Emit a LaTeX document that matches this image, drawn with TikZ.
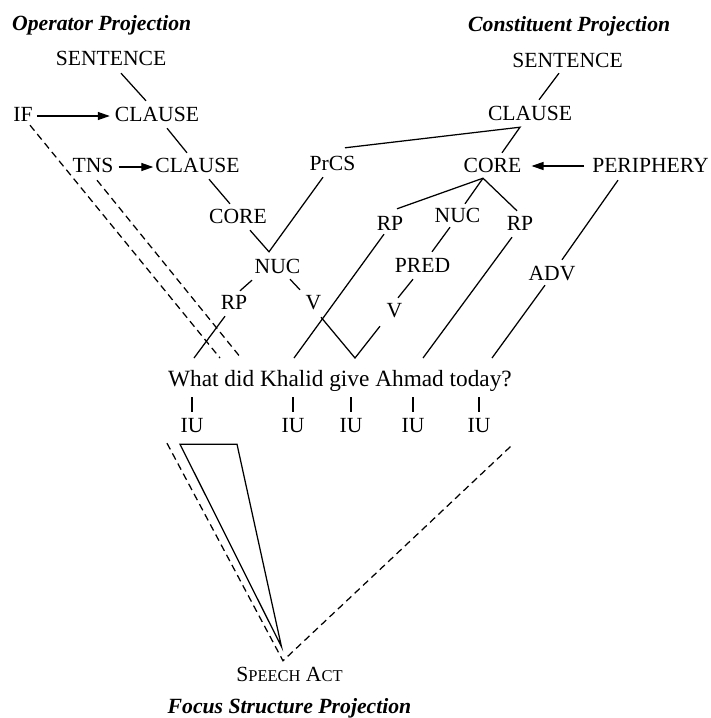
\documentclass[tikz,border=0pt]{standalone}
\usepackage{fontspec}
\setmainfont{Liberation Serif}
\usetikzlibrary{arrows.meta}

\begin{document}
\begin{tikzpicture}[x=1pt,y=-1pt,
  lbl/.style={inner sep=0pt, text height=14pt, text depth=0pt, anchor=base,
              font=\fontsize{21.6}{24}\selectfont},
  head/.style={inner sep=0pt, anchor=base west,
              font=\fontsize{21.7}{24}\selectfont\bfseries\itshape},
  ln/.style={line width=1.25pt},
  dsh/.style={line width=1.25pt, dash pattern=on 7pt off 4.5pt},
  arr/.style={line width=1.25pt, -{Triangle[length=12pt,width=8pt]}},
]
\useasboundingbox (0,0) rectangle (711,718);

% headings
\node[head] (opHead) at (12,30) {Operator Projection};
\node[head] (csHead) at (468,31) {Constituent Projection};
\node[head, anchor=base] (fsHead) at (289.5,713) {Focus Structure Projection};

% operator projection
\node[lbl] (sentL)   at (111,65)   {SENTENCE};
\node[lbl] (ifn)     at (23,121)   {IF};
\node[lbl] (clauseLa) at (157,121) {CLAUSE};
\node[lbl] (tns)     at (93,172)   {TNS};
\node[lbl] (clauseLb) at (197.5,172) {CLAUSE};
\node[lbl] (coreL)   at (238,223)  {CORE};
\node[lbl] (nucL)    at (277.5,273) {NUC};
\node[lbl] (rpL)     at (234,309)  {RP};
\node[lbl] (vL)      at (313.5,309) {V};

% constituent projection
\node[lbl] (sentR)   at (567.5,67) {SENTENCE};
\node[lbl] (clauseR) at (530,120)  {CLAUSE};
\node[lbl] (prcs)    at (332.5,170) {PrCS};
\node[lbl] (coreR)   at (492.5,172) {CORE};
\node[lbl] (periph)  at (650.5,172) {PERIPHERY};
\node[lbl] (rpRa)    at (390,230)  {RP};
\node[lbl] (nucR)    at (457.5,222) {NUC};
\node[lbl] (rpRb)    at (520,230)  {RP};
\node[lbl] (pred)    at (422.5,272) {PRED};
\node[lbl] (vR)      at (394.5,317) {V};
\node[lbl] (adv)     at (552,280)  {ADV};

% the sentence
\node[inner sep=0pt, anchor=base west, font=\fontsize{23.3}{26}\selectfont]
  (sent) at (168,386) {What did Khalid give Ahmad today?};

% information units
\node[lbl] (iua) at (192,432) {IU};
\node[lbl] (iub) at (293,432) {IU};
\node[lbl] (iuc) at (351,432) {IU};
\node[lbl] (iud) at (413,432) {IU};
\node[lbl] (iue) at (479,432) {IU};

% focus structure projection
\node[lbl] (speech) at (289.5,681)
  {S{\fontsize{16.5}{18}\selectfont PEECH} A{\fontsize{16.5}{18}\selectfont CT}};

% operator projection branches
\draw[ln] ([shift={(10,8)}]sentL.south) -- ([shift={(-11,-6)}]clauseLa.north);
\draw[ln] ([shift={(10,7)}]clauseLa.south) -- ([shift={(-10.5,-5)}]clauseLb.north);
\draw[ln] ([shift={(11.5,7)}]clauseLb.south) -- ([shift={(-8,-5)}]coreL.north);
\draw[ln] ([shift={(12,7)}]coreL.south) -- ([shift={(-8.5,-7)}]nucL.north)
          -- ([shift={(-9.5,7)}]prcs.south);
\draw[ln] ([shift={(-25.5,7)}]nucL.south) -- ([shift={(6,-4)}]rpL.north);
\draw[ln] ([shift={(12.5,6)}]nucL.south) -- ([shift={(-13.5,-5)}]vL.north);
\draw[ln] ([shift={(-9,7)}]rpL.south) -- ([shift={(26,-28)}]sent.base west);
\draw[ln] ([shift={(7.5,8)}]vL.south) -- ([shift={(187,-28)}]sent.base west)
          -- ([shift={(-14.5,9)}]vR.south);

% operators
\draw[arr] ([shift={(4,2)}]ifn.east) -- ([shift={(-5,2)}]clauseLa.west);
\draw[arr] ([shift={(5,2)}]tns.east) -- ([shift={(-2,2)}]clauseLb.west);
\draw[dsh] ([shift={(7,4)}]ifn.south) -- ([shift={(52,-28)}]sent.base west);
\draw[dsh] ([shift={(4,8)}]tns.south) -- ([shift={(73,-28)}]sent.base west);

% constituent projection branches
\draw[ln] ([shift={(-8.5,6)}]sentR.south) -- ([shift={(9,-6)}]clauseR.north);
\draw[ln] ([shift={(12.5,-8)}]prcs.north) -- ([shift={(-10,7)}]clauseR.south)
          -- ([shift={(9.5,-5)}]coreR.north);
\draw[ln] ([shift={(7,-7)}]rpRa.north) -- ([shift={(-9.5,6)}]coreR.south)
          -- ([shift={(-3,-5)}]rpRb.north);
\draw[ln] ([shift={(-9.5,6)}]coreR.south) -- ([shift={(7.5,-4)}]nucR.north);
\draw[ln] ([shift={(-7.5,5)}]nucR.south) -- ([shift={(9.5,-6)}]pred.north);
\draw[ln] ([shift={(-9.5,7)}]pred.south) -- ([shift={(3.5,-5)}]vR.north);
\draw[ln] ([shift={(-6,4)}]rpRa.south) -- ([shift={(126,-28)}]sent.base west);
\draw[ln] ([shift={(-8,7)}]rpRb.south) -- ([shift={(255,-28)}]sent.base west);
\draw[arr] ([shift={(-8,1)}]periph.west) -- ([shift={(10,1)}]coreR.east);
\draw[ln] ([shift={(-32.5,8)}]periph.south) -- ([shift={(10,-6)}]adv.north);
\draw[ln] ([shift={(-7,5)}]adv.south) -- ([shift={(324,-28)}]sent.base west);

% words to information units
\foreach \u in {iua,iub,iuc,iud,iue}
  \draw[ln] ([shift={(0,-6)}]\u.north) -- ([shift={(0,-21)}]\u.north);

% focus structure
\draw[ln] ([shift={(-12,12)}]iua.south) -- ([shift={(45,12)}]iua.south)
          -- ([shift={(-8,-20)}]speech.north) -- cycle;
\draw[dsh] ([shift={(-25,11)}]iua.south) -- ([shift={(-6.5,-6)}]speech.north)
           -- ([shift={(34,12)}]iue.south);
\end{tikzpicture}
\end{document}
